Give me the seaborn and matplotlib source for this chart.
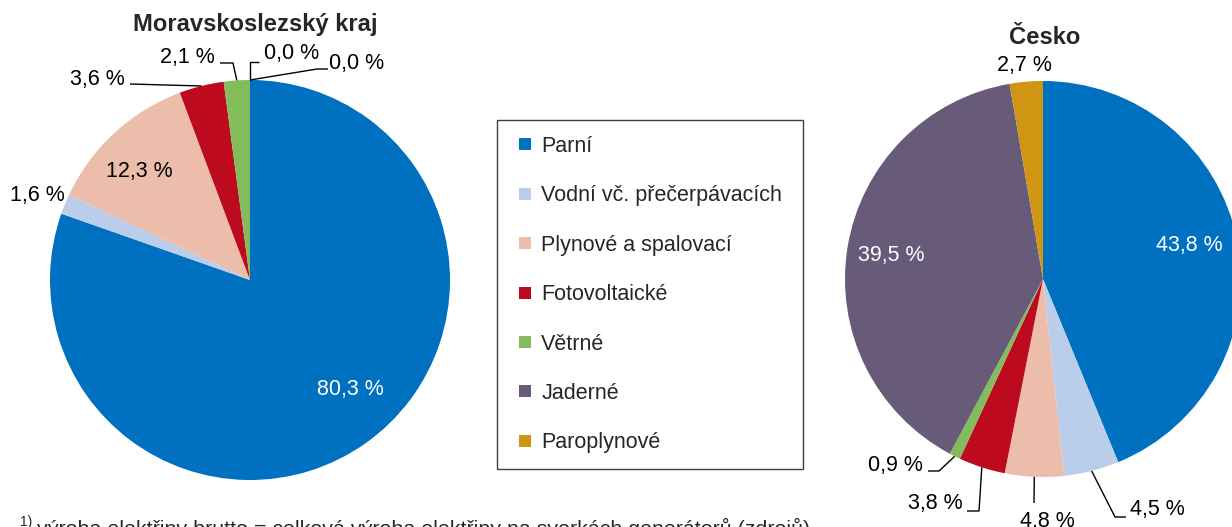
import matplotlib
matplotlib.use("Agg")
import matplotlib.pyplot as plt
import seaborn as sns
import numpy as np
from matplotlib.lines import Line2D

# ---------------- data ----------------
categories = ["Parní", "Vodní vč. přečerpávacích", "Plynové a spalovací",
              "Fotovoltaické", "Větrné", "Jaderné", "Paroplynové"]
msk_values = [80.3, 1.6, 12.3, 3.6, 2.1, 0.0, 0.0]
cz_values = [43.8, 4.5, 4.8, 3.8, 0.9, 39.5, 2.7]
msk_title = "Moravskoslezský kraj"
cz_title = "Česko"
footnote_mark = "1)"
footnote = "výroba elektřiny brutto = celková výroba elektřiny na svorkách generátorů (zdrojů)"
colors = ["#0070C0", "#BACDEA", "#ECBDAA", "#BE0A1E", "#83BD5B", "#685A79", "#CF9614"]

# ---------------- style ----------------
sns.set_theme(style="white")
plt.rcParams['font.family'] = ['Liberation Sans', 'DejaVu Sans']
palette = sns.color_palette(colors)

W, H = 1232, 527
fig = plt.figure(figsize=(W / 100, H / 100), dpi=100)
fig.patch.set_facecolor("white")

FS = 15.5
TITLE_FS = 17.1


def fmt(v):
    return f"{v:.1f} %".replace(".", ",")


def draw_pie(values, cx, cy, r, layout):
    ax = fig.add_axes([(cx - r) / W, (H - cy - r) / H, 2 * r / W, 2 * r / H])
    wedges, _ = ax.pie(values, colors=palette, startangle=90, counterclock=False,
                       radius=1, wedgeprops=dict(linewidth=0))
    ax.set_xlim(-1, 1)
    ax.set_ylim(-1, 1)
    ax.axis("off")

    def to_d(p):
        return ((p[0] - cx) / r, (cy - p[1]) / r)

    for i, (tpos, knees, tcol) in layout.items():
        tx, ty = to_d(tpos)
        ax.text(tx, ty, fmt(values[i]), color=tcol, fontsize=FS,
                ha="center", va="center", clip_on=False)
        if knees:
            w = wedges[i]
            mid = np.deg2rad((w.theta1 + w.theta2) / 2)
            pts = [to_d(k) for k in knees] + [(np.cos(mid), np.sin(mid))]
            xs, ys = zip(*pts)
            ax.plot(xs, ys, color="black", lw=1.0, clip_on=False, solid_capstyle="butt")
    return ax


msk_layout = {
    0: ((350, 390), None, "white"),
    1: ((37, 195), None, "black"),
    2: ((139, 172), None, "black"),
    3: ((97, 79), [(130, 84)], "black"),
    4: ((187, 57), [(220, 63), (233, 63)], "black"),
    5: ((292, 54), [(259, 62), (250, 62)], "black"),
    6: ((357, 63), [(328, 69), (317, 69)], "black"),
}
cz_layout = {
    0: ((1189, 245), None, "white"),
    1: ((1157, 510), [(1126, 517), (1115, 517)], "black"),
    2: ((1047, 521), [(1034, 503)], "black"),
    3: ((935, 504), [(967, 511), (979, 511)], "black"),
    4: ((895, 465), [(928, 471), (939, 471)], "black"),
    5: ((891, 255), None, "white"),
    6: ((1024, 65), None, "black"),
}

draw_pie(msk_values, 250, 280, 200, msk_layout)
draw_pie(cz_values, 1043, 279, 198, cz_layout)

# titles
fig.text(255 / W, 1 - 25 / H, msk_title, fontsize=TITLE_FS, fontweight="bold",
         ha="center", va="center")
fig.text(1045 / W, 1 - 37 / H, cz_title, fontsize=TITLE_FS, fontweight="bold",
         ha="center", va="center")

# legend
handles = [Line2D([], [], marker="s", linestyle="", markersize=8.2,
                  markerfacecolor=c, markeredgewidth=0) for c in palette]
leg = fig.legend(handles, categories, loc="upper left",
                 bbox_to_anchor=(497 / W, (H - 466) / H, 306 / W, 346 / H),
                 bbox_transform=fig.transFigure, mode="expand",
                 frameon=True, fancybox=False, framealpha=1,
                 edgecolor="#404040", fontsize=FS, labelspacing=1.32,
                 borderpad=0.74, handlelength=1.12, handletextpad=0.2,
                 borderaxespad=0)
leg.get_frame().set_linewidth(1.0)

# footnote (cut off at the bottom, as in the reference)
fig.text(20 / W, (H - 526) / H, footnote_mark, fontsize=10, ha="left", va="baseline")
fig.text(37 / W, (H - 535) / H, footnote, fontsize=15.4, ha="left", va="baseline")

fig.savefig("out.png", dpi=100)
